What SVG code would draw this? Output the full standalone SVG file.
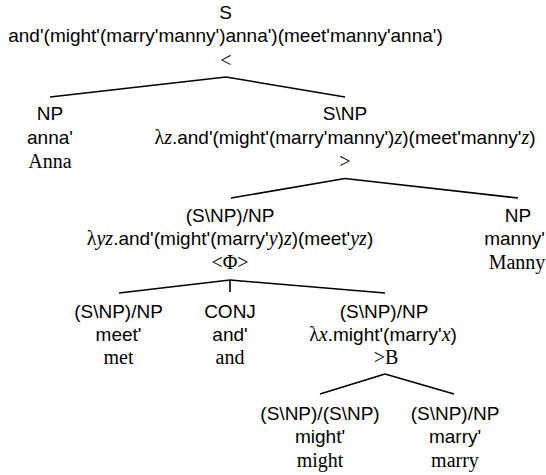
<svg xmlns="http://www.w3.org/2000/svg" width="546" height="475" viewBox="0 0 546 475">
<style>
text{font-family:"Liberation Sans",Arial,sans-serif;font-size:19px;fill:#000;text-anchor:middle}
.s{font-family:"Liberation Serif","Times New Roman",serif;font-size:20px}
.si{font-family:"Liberation Serif","Times New Roman",serif;font-size:20px;font-style:italic}
.edge{stroke:#000;stroke-width:1.6;fill:none}
</style>
<rect width="546" height="475" fill="#fff"/>
<g id="connectors">
<line class="edge" x1="226" y1="77" x2="50" y2="97"/>
<line class="edge" x1="226" y1="77" x2="345" y2="97"/>
<line class="edge" x1="345" y1="178.5" x2="231" y2="198"/>
<line class="edge" x1="345" y1="178.5" x2="518" y2="198"/>
<line class="edge" x1="230" y1="280" x2="119" y2="293"/>
<line class="edge" x1="230" y1="280" x2="385" y2="293"/>
<line class="edge" x1="230" y1="280" x2="230" y2="292"/>
<line class="edge" x1="385" y1="374" x2="320" y2="394"/>
<line class="edge" x1="385" y1="374" x2="454" y2="394"/>
</g>
<g id="node-root">
<text x="225.5" y="18.5">S</text>
<text x="225.5" y="42">and'(might'(marry'manny')anna')(meet'manny'anna')</text>
<text class="s" x="226" y="66.5">&lt;</text>
</g>
<g id="node-anna">
<text x="50" y="120">NP</text>
<text x="50" y="143.5">anna'</text>
<text class="s" x="50" y="168">Anna</text>
</g>
<g id="node-vp">
<text x="345" y="120">S\NP</text>
<text x="345" y="143.5"><tspan class="s">λ</tspan><tspan class="si">z</tspan>.and'(might'(marry'manny')<tspan class="si">z</tspan>)(meet'manny'<tspan class="si">z</tspan>)</text>
<text class="s" x="345" y="168">&gt;</text>
</g>
<g id="node-coord">
<text x="230" y="221.5">(S\NP)/NP</text>
<text x="230" y="245"><tspan class="s">λ</tspan><tspan class="si">yz</tspan>.and'(might'(marry'<tspan class="si">y</tspan>)<tspan class="si">z</tspan>)(meet'<tspan class="si">yz</tspan>)</text>
<text class="s" x="230" y="268.5">&lt;Φ&gt;</text>
</g>
<g id="node-manny">
<text x="518" y="221.5">NP</text>
<text x="514.5" y="245">manny'</text>
<text class="s" x="517" y="269">Manny</text>
</g>
<g id="node-met">
<text x="118.5" y="317.5">(S\NP)/NP</text>
<text x="118.5" y="340.5">meet'</text>
<text class="s" x="118.5" y="363.5">met</text>
</g>
<g id="node-and">
<text x="230" y="317.5">CONJ</text>
<text x="230" y="340.5">and'</text>
<text class="s" x="230" y="363.5">and</text>
</g>
<g id="node-mightmarry">
<text x="384" y="317.5">(S\NP)/NP</text>
<text x="383" y="340.5"><tspan class="s">λ</tspan><tspan class="si">x</tspan>.might'(marry'<tspan class="si">x</tspan>)</text>
<text class="s" x="386" y="363.5">&gt;B</text>
</g>
<g id="node-might">
<text x="320" y="419.5">(S\NP)/(S\NP)</text>
<text x="320" y="443">might'</text>
<text class="s" x="320" y="466.5">might</text>
</g>
<g id="node-marry">
<text x="455" y="419.5">(S\NP)/NP</text>
<text x="455" y="443">marry'</text>
<text class="s" x="455" y="466.5">marry</text>
</g>
</svg>
